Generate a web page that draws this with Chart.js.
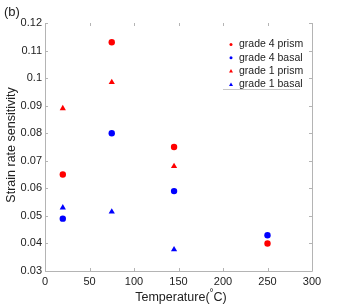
<!DOCTYPE html>
<html><head><meta charset="utf-8">
<script src="https://cdn.jsdelivr.net/npm/chart.js@4/dist/chart.umd.min.js"></script>
<style>html,body{margin:0;padding:0;background:#fff}#wrap{width:345px;height:306px}</style>
</head><body><div id="wrap"><canvas id="c" width="345" height="306"></canvas></div>
<script>
const seriesNames = ['grade 4 prism', 'grade 4 basal', 'grade 1 prism', 'grade 1 basal'];
const g4prismX = [20, 75, 145, 250];
const g4prismY = [0.065, 0.113, 0.075, 0.040];
const g4basalX = [20, 75, 145, 250];
const g4basalY = [0.049, 0.080, 0.059, 0.043];
const g1prismX = [20, 75, 145];
const g1prismY = [0.089, 0.0985, 0.068];
const g1basalX = [20, 75, 145];
const g1basalY = [0.053, 0.0515, 0.0378];
const xTicks = [0, 50, 100, 150, 200, 250, 300];
const yTicks = [0.03, 0.04, 0.05, 0.06, 0.07, 0.08, 0.09, 0.1, 0.11, 0.12];

const pts = (xs, ys) => xs.map((x, i) => ({x, y: ys[i]}));
const FONT = 'Liberation Sans, Arial, sans-serif';
const AXC = '#b4b4b4';
const styles = [
  {c: '#ff0000', s: 'circle', r: 3.2},
  {c: '#0000ff', s: 'circle', r: 3.2},
  {c: '#ff0000', s: 'triangle', r: 3.6},
  {c: '#0000ff', s: 'triangle', r: 3.6}
];
const dataSets = [pts(g4prismX, g4prismY), pts(g4basalX, g4basalY), pts(g1prismX, g1prismY), pts(g1basalX, g1basalY)];

const overlay = {
  id: 'overlay',
  afterDraw(chart) {
    const ctx = chart.ctx, a = chart.chartArea;
    const xs = chart.scales.x, ys = chart.scales.y;
    ctx.save();
    ctx.strokeStyle = AXC; ctx.lineWidth = 1;
    ctx.beginPath();
    ctx.moveTo(a.left + 0.5, a.top); ctx.lineTo(a.left + 0.5, a.bottom + 0.5);
    ctx.lineTo(a.right + 0.5, a.bottom + 0.5); ctx.lineTo(a.right + 0.5, a.top);
    ctx.stroke();
    ctx.beginPath();
    xTicks.forEach(t => {
      const px = Math.round(xs.getPixelForValue(t)) + 0.5;
      ctx.moveTo(px, a.bottom); ctx.lineTo(px, a.bottom - 3);
      ctx.moveTo(px, a.top); ctx.lineTo(px, a.top + 3);
    });
    yTicks.forEach(t => {
      const py = Math.round(ys.getPixelForValue(t)) + 0.5;
      ctx.moveTo(a.left, py); ctx.lineTo(a.left + 3, py);
      ctx.moveTo(a.right, py); ctx.lineTo(a.right - 3, py);
    });
    ctx.stroke();
    // panel label
    ctx.fillStyle = '#222';
    ctx.font = '13px ' + FONT;
    ctx.textAlign = 'left'; ctx.textBaseline = 'middle';
    ctx.fillText('(b)', 4, 12);
    // x title with superscript degree
    ctx.font = '12.5px ' + FONT;
    const t1 = 'Temperature(', t2 = 'C)';
    const w1 = ctx.measureText(t1).width, w2 = ctx.measureText(t2).width;
    ctx.font = '10px ' + FONT;
    const wd = ctx.measureText('°').width;
    const total = w1 + wd + w2;
    let x0 = 181 - total / 2;
    ctx.font = '12.5px ' + FONT;
    ctx.fillText(t1, x0, 298);
    ctx.font = '10px ' + FONT;
    ctx.fillText('°', x0 + w1, 293);
    ctx.font = '12.5px ' + FONT;
    ctx.fillText(t2, x0 + w1 + wd, 298);
    // y title
    ctx.save();
    ctx.translate(12, 145);
    ctx.rotate(-Math.PI / 2);
    ctx.textAlign = 'center';
    ctx.fillText('Strain rate sensitivity', 0, 0);
    ctx.restore();
    // legend
    ctx.font = '10.5px ' + FONT;
    ctx.textAlign = 'left';
    seriesNames.forEach((n, i) => {
      const y = 44.5 + i * 13.3;
      const st = styles[i];
      ctx.fillStyle = st.c;
      ctx.beginPath();
      if (st.s === 'circle') { ctx.arc(231, y, 1.5, 0, Math.PI * 2); }
      else { ctx.moveTo(231, y - 2); ctx.lineTo(233, y + 1.5); ctx.lineTo(229, y + 1.5); ctx.closePath(); }
      ctx.fill();
      ctx.fillStyle = '#222';
      ctx.fillText(n, 239, y);
    });
    ctx.strokeStyle = '#c8c8c8';
    ctx.beginPath(); ctx.moveTo(223, 89.5); ctx.lineTo(300, 89.5); ctx.stroke();
    ctx.restore();
  }
};

new Chart(document.getElementById('c'), {
  type: 'scatter',
  data: {
    datasets: dataSets.map((d, i) => ({
      label: seriesNames[i], data: d,
      pointStyle: styles[i].s, pointRadius: styles[i].r,
      backgroundColor: styles[i].c, borderColor: styles[i].c, borderWidth: 0,
      pointHoverRadius: styles[i].r
    }))
  },
  options: {
    responsive: false, animation: false,
    layout: {padding: {left: 0, right: 33, top: 23, bottom: 0}},
    plugins: {legend: {display: false}, tooltip: {enabled: false}},
    scales: {
      x: {
        type: 'linear', min: 0, max: 300,
        afterBuildTicks: s => { s.ticks = xTicks.map(v => ({value: v})); },
        afterFit: s => { s.height = 35; },
        grid: {display: false, drawTicks: false}, border: {display: false},
        ticks: {color: '#222', font: {size: 11, family: FONT}, padding: 4, maxRotation: 0,
          callback: v => String(v)}
      },
      y: {
        type: 'linear', min: 0.03, max: 0.12,
        afterBuildTicks: s => { s.ticks = yTicks.map(v => ({value: v})); },
        afterFit: s => { s.width = 45; },
        grid: {display: false, drawTicks: false}, border: {display: false},
        ticks: {color: '#222', font: {size: 11, family: FONT}, padding: 3,
          callback: v => String(Math.round(v * 100) / 100)}
      }
    }
  },
  plugins: [overlay]
});
</script></body></html>
